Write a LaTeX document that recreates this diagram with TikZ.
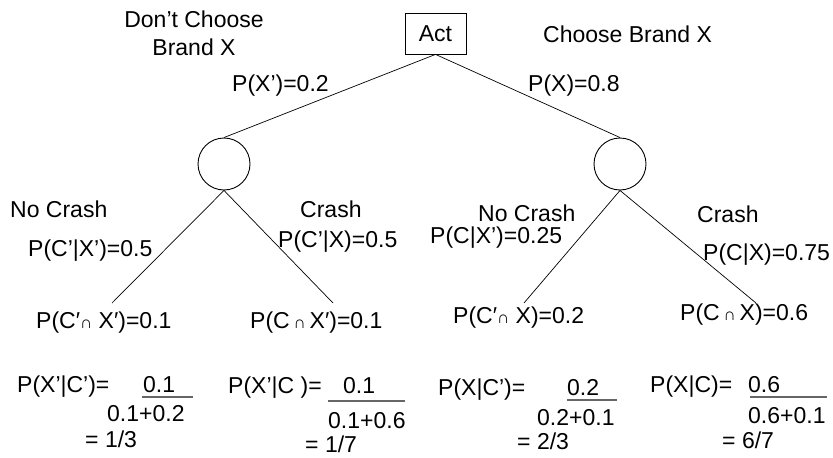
\documentclass[tikz,border=0pt]{standalone}
\usepackage{fontspec}
\setmainfont{Liberation Sans}
\tikzset{
  lbl/.style={inner sep=0pt, anchor=base west, font=\fontsize{23}{27}\selectfont},
  lblc/.style={inner sep=0pt, anchor=base, font=\fontsize{23}{27}\selectfont},
  actbox/.style={draw, line width=0.8pt, minimum width=61pt, minimum height=41pt, inner sep=0pt, font=\fontsize{23}{27}\selectfont},
  chance/.style={draw, circle, line width=0.9pt, minimum size=52pt, inner sep=0pt},
  branch/.style={line width=0.7pt},
  fracbar/.style={draw=black!60, line width=1.2pt}
}
% small intersection sign used inside the joint probabilities
\newcommand{\capsym}{{\fontsize{17}{17}\selectfont ∩}}
\begin{document}
\begin{tikzpicture}[x=1pt,y=-1pt]
\useasboundingbox (0,0) rectangle (833,458);

% decision and chance nodes
\node[actbox] (act) at (435.5,33.5) {Act};
\node[chance] (c1) at (224,164) {};
\node[chance] (c2) at (620,164) {};

% leaf ends
\coordinate (l1) at (112,303);
\coordinate (l2) at (333,303);
\coordinate (l3) at (524,303);
\coordinate (l4) at (756,303);

% branches
\draw[branch] (act.south) -- (c1.north);
\draw[branch] (act.south) -- (c2.north);
\draw[branch] (c1.south) -- (l1);
\draw[branch] (c1.south) -- (l2);
\draw[branch] (c2.south) -- (l3);
\draw[branch] (c2.south) -- (l4);

% first-stage labels
\node[lblc] (dc1) at (194,27) {Don’t Choose};
\node[lblc] (dc2) at (194,55) {Brand X};
\node[lbl] (cb) at (543,42) {Choose Brand X};
\node[lbl] (px1) at (232,91) {P(X’)=0.2};
\node[lbl] (px2) at (528,91) {P(X)=0.8};

% second-stage labels
\node[lbl] (nc1) at (10,217) {No Crash};
\node[lbl] (p1) at (28,256) {P(C’|X’)=0.5};
\node[lbl] (cr1) at (300,217) {Crash};
\node[lbl] (p2) at (278,247) {P(C’|X)=0.5};
\node[lbl] (nc2) at (478,221) {No Crash};
\node[lbl] (p3) at (430,243) {P(C|X’)=0.25};
\node[lbl] (cr2) at (697,222) {Crash};
\node[lbl] (p4) at (703,260) {P(C|X)=0.75};

% joint probabilities
\node[lbl] (j1) at (36,328) {P(C′\capsym\ X′)=0.1};
\node[lbl] (j2) at (250,328) {P(C\,\capsym\,X′)=0.1};
\node[lbl] (j3) at (453,323) {P(C′\capsym\ X)=0.2};
\node[lbl] (j4) at (680,320) {P(C\,\capsym\,X)=0.6};

% posterior 1
\node[lbl] (q1) at (17,392) {P(X’|C’)=};
\node[lbl] (n1) at (143,392) {0.1};
\draw[fracbar] (142,397) -- (193,397);
\node[lbl] (d1) at (107,421) {0.1+0.2};
\node[lbl] (r1) at (85,447) {= 1/3};

% posterior 2
\node[lbl] (q2) at (228,393) {P(X’|C )=};
\node[lbl] (n2) at (343,393) {0.1};
\draw[fracbar] (328,401) -- (405,401);
\node[lbl] (d2) at (328,428) {0.1+0.6};
\node[lbl] (r2) at (305,452) {= 1/7};

% posterior 3
\node[lbl] (q3) at (438,395) {P(X|C’)=};
\node[lbl] (n3) at (567,395) {0.2};
\draw[fracbar] (567,400) -- (617,400);
\node[lbl] (d3) at (537,425) {0.2+0.1};
\node[lbl] (r3) at (517,449) {= 2/3};

% posterior 4
\node[lbl] (q4) at (650,392) {P(X|C)=};
\node[lbl] (n4) at (748,392) {0.6};
\draw[fracbar] (750,397) -- (827,397);
\node[lbl] (d4) at (748,423) {0.6+0.1};
\node[lbl] (r4) at (722,448) {= 6/7};
\end{tikzpicture}
\end{document}
